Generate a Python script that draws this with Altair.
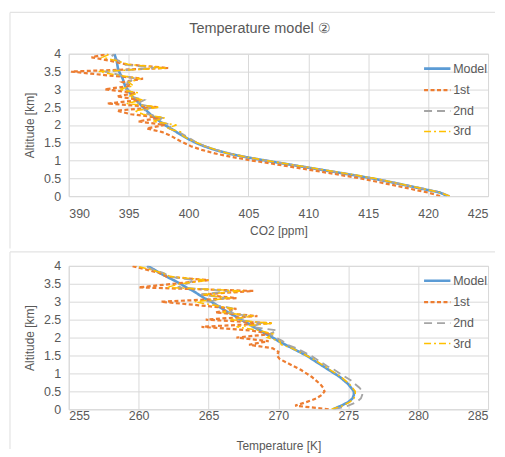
import altair as alt
import pandas as pd

# ---------------- data ----------------
altitude = [0.0, 0.1, 0.2, 0.3, 0.4, 0.5, 0.6, 0.7, 0.8, 0.9,
            1.0, 1.1, 1.2, 1.3, 1.4, 1.5, 1.6, 1.7, 1.8, 1.9,
            2.0, 2.1, 2.2, 2.3, 2.4, 2.5, 2.6, 2.7, 2.8, 2.9,
            3.0, 3.1, 3.2, 3.3, 3.4, 3.5, 3.6, 3.7, 3.8, 3.9, 4.0]

series_names = ["Model", "1st", "2nd", "3rd"]

co2_model = [421.6, 421.0, 419.6, 418.2, 416.8, 415.3, 413.6, 411.8, 410.0, 408.2,
             406.4, 404.7, 403.3, 402.2, 401.3, 400.6, 400.0, 399.5, 399.0, 398.5,
             398.0, 397.6, 397.2, 396.8, 396.5, 396.2, 395.9, 395.6, 395.3, 395.1,
             394.9, 394.7, 394.6, 394.5, 394.35, 394.2, 394.1, 394.05, 394.0, 393.9, 393.8]
co2_1st = [421.0, 420.0, 418.6, 417.2, 415.8, 414.3, 412.6, 410.8, 409.0, 407.2,
           405.3, 403.6, 402.2, 401.1, 400.2, 399.6, 399.0, 398.5, 397.8, 396.5,
           398.0, 395.8, 397.6, 395.2, 394.0, 397.4, 393.2, 396.0, 394.0, 395.6,
           393.0, 395.2, 394.5, 396.2, 393.0, 390.2, 398.3, 394.8, 393.5, 391.9, 393.3]
co2_2nd = [421.8, 421.1, 419.7, 418.3, 416.9, 415.4, 413.7, 411.9, 410.1, 408.3,
           406.5, 404.8, 403.4, 402.3, 401.4, 400.7, 400.2, 399.7, 399.2, 398.4,
           398.6, 397.4, 397.8, 396.6, 396.2, 397.0, 395.7, 396.3, 395.2, 395.4,
           394.8, 395.0, 394.9, 395.6, 394.3, 393.0, 397.2, 394.5, 394.2, 393.5, 393.8]
co2_3rd = [421.8, 421.0, 419.7, 418.3, 416.9, 415.5, 413.8, 412.0, 410.2, 408.3,
           406.5, 404.8, 403.3, 402.3, 401.4, 400.7, 400.0, 399.5, 399.4, 398.2,
           399.0, 397.0, 398.0, 396.2, 395.5, 397.6, 394.8, 396.2, 395.0, 395.8,
           394.2, 395.4, 395.0, 396.0, 394.0, 392.5, 398.2, 395.0, 394.0, 392.8, 393.5]

temp_model = [273.9, 274.5, 275.0, 275.3, 275.4, 275.4, 275.2, 275.0, 274.7, 274.4,
              274.0, 273.6, 273.2, 272.8, 272.4, 272.0, 271.5, 271.0, 270.5, 270.0,
              269.6, 269.1, 268.7, 268.2, 267.8, 267.3, 266.9, 266.4, 266.0, 265.6,
              265.2, 264.7, 264.3, 263.9, 263.4, 263.0, 262.5, 262.0, 261.5, 261.1, 260.6]
temp_1st = [273.6, 271.2, 272.0, 272.7, 273.1, 273.3, 273.2, 273.0, 272.7, 272.4,
            272.0, 271.6, 271.1, 270.6, 270.1, 269.9, 270.0, 269.6, 267.9, 269.3,
            267.0, 269.5, 268.0, 264.5, 269.5, 264.8, 268.5, 265.5, 267.0, 264.3,
            261.6, 267.0, 264.5, 268.2, 260.0, 262.5, 265.0, 262.0, 261.5, 260.5, 259.5]
temp_2nd = [274.0, 275.0, 275.6, 275.9, 276.0, 276.0, 275.8, 275.5, 275.2, 274.8,
            274.4, 274.0, 273.5, 273.1, 272.7, 272.3, 271.8, 271.3, 270.6, 270.3,
            269.8, 269.4, 269.9, 268.0, 268.9, 267.0, 267.8, 266.5, 266.9, 265.6,
            265.0, 266.2, 264.5, 266.5, 262.8, 263.4, 264.0, 262.2, 261.8, 261.0, 260.4]
temp_3rd = [273.8, 274.6, 275.1, 275.4, 275.5, 275.5, 275.3, 275.1, 274.8, 274.5,
            274.1, 273.7, 273.3, 272.9, 272.5, 272.0, 271.5, 271.0, 270.2, 270.1,
            269.2, 269.6, 268.6, 267.0, 269.6, 266.5, 268.2, 266.0, 266.8, 265.4,
            264.0, 266.6, 264.6, 267.5, 262.0, 263.0, 265.0, 262.3, 261.7, 260.8, 259.8]

co2_ticks = [390, 395, 400, 405, 410, 415, 420, 425]
temp_ticks = [255, 260, 265, 270, 275, 280, 285]
alt_ticks = [0, 0.5, 1, 1.5, 2, 2.5, 3, 3.5, 4]
main_title = "Temperature model ②"


def long_frame(values_by_series):
    rows = []
    for name, vals in zip(series_names, values_by_series):
        for a, v in zip(altitude, vals):
            rows.append({"series": name, "alt": a, "value": v})
    return pd.DataFrame(rows)


co2_df = long_frame([co2_model, co2_1st, co2_2nd, co2_3rd])
temp_df = long_frame([temp_model, temp_1st, temp_2nd, temp_3rd])

TXT = "#595959"
GRID = "#D9D9D9"
FRAME = "#E3E3E3"
FONT = "Liberation Sans"

color_scale = alt.Scale(domain=series_names, range=["#5B9BD5", "#ED7D31", "#A5A5A5", "#FFC000"])
dash_scale = alt.Scale(domain=series_names, range=[[1, 0], [4, 2.5], [8, 5], [7, 3, 2, 3]])
width_scale = alt.Scale(domain=series_names, range=[2.6, 1.5, 1.5, 1.5])

W = 421


def panel(df, xdom, xticks, xtitle, h, xlabpad, xtitlepad, frame_top, frame_bottom, title=None):
    legend = alt.Legend(title=None, orient="none", legendX=355, legendY=0,
                        symbolType="stroke", symbolSize=700, labelFontSize=12.5,
                        labelColor=TXT, labelFont=FONT, rowPadding=-5, labelOffset=1,
                        padding=0)
    base = alt.Chart(df)
    layers = []
    for s in series_names:
        layers.append(
            base.transform_filter(alt.datum.series == s).mark_line(clip=True).encode(
                x=alt.X("value:Q", scale=alt.Scale(domain=xdom, nice=False, zero=False),
                        axis=alt.Axis(values=xticks, title=xtitle, labelPadding=xlabpad,
                                      titlePadding=xtitlepad)),
                y=alt.Y("alt:Q", scale=alt.Scale(domain=[0, 4], nice=False),
                        axis=alt.Axis(values=alt_ticks, format="~g", title="Altitude [km]",
                                      labelPadding=8, titlePadding=7)),
                color=alt.Color("series:N", scale=color_scale, legend=legend),
                strokeDash=alt.StrokeDash("series:N", scale=dash_scale, legend=legend),
                strokeWidth=alt.StrokeWidth("series:N", scale=width_scale, legend=legend),
                order=alt.Order("alt:Q"),
            )
        )
    one = pd.DataFrame({"k": [0]})
    frame = alt.Chart(one).mark_rule(color=FRAME, strokeWidth=1.2).encode(
        x=alt.value(-59), x2=alt.value(428), y=alt.value(frame_top))
    frame_left = alt.Chart(one).mark_rule(color=FRAME, strokeWidth=1.2).encode(
        x=alt.value(-59), y=alt.value(frame_top), y2=alt.value(frame_bottom))
    extra = [frame, frame_left]
    if title is not None:
        extra.append(
            alt.Chart(pd.DataFrame({"t": [title]})).mark_text(
                fontSize=14.5, color=TXT, font=FONT, align="center", baseline="middle"
            ).encode(text="t:N", x=alt.value(192), y=alt.value(-24.5))
        )
    return alt.layer(*extra, *layers).properties(width=W, height=h)


top = panel(co2_df, [390, 425], co2_ticks, "CO2 [ppm]", 143, 11, 6, -41.5, 195.5, main_title)
bottom = panel(temp_df, [255, 285], temp_ticks, "Temperature [K]", 144, 0, 19, -14, 184)

chart = alt.vconcat(top, bottom, spacing=0).resolve_scale(
    color="independent", strokeDash="independent", strokeWidth="independent",
    x="independent", y="independent"
).resolve_legend(color="independent", strokeDash="independent", strokeWidth="independent"
).properties(padding={"left": 0, "top": 2, "right": 0, "bottom": 0}
).configure(background="white"
).configure_view(stroke=GRID, strokeWidth=1
).configure_axis(
    grid=True, gridColor=GRID, gridWidth=1, domain=False, ticks=False,
    labelColor=TXT, titleColor=TXT, labelFont=FONT, titleFont=FONT,
    labelFontSize=12.5, titleFontSize=12, titleFontWeight="normal"
)

chart.save("out.html", embed_options={"renderer": "svg", "actions": False})
